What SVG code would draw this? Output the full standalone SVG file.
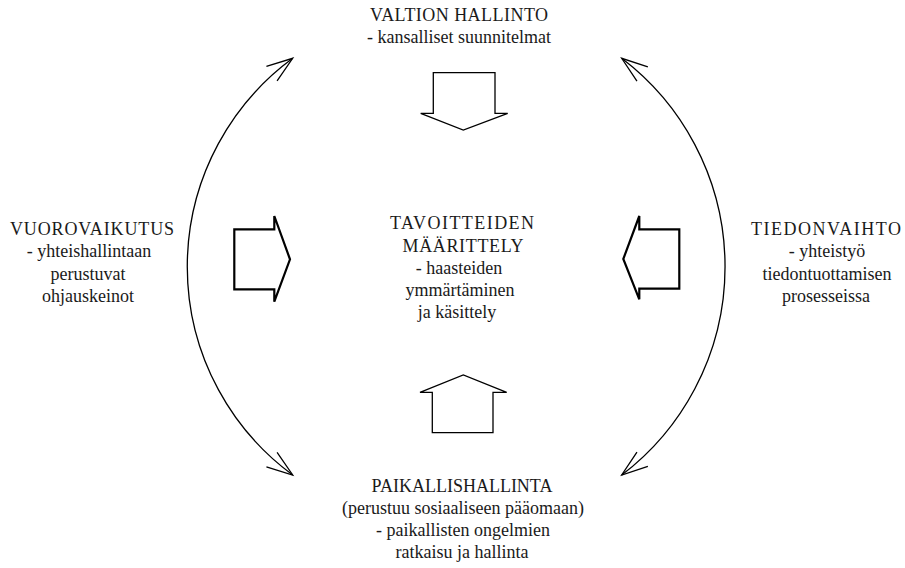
<svg xmlns="http://www.w3.org/2000/svg" width="905" height="568" viewBox="0 0 905 568">
  <style>
    .t { font-family: 'Liberation Serif', 'Times New Roman', serif; font-size: 18px; fill: #1a1a1a; text-anchor: middle; }
    .blk { fill: #ffffff; stroke: #000000; stroke-linejoin: miter; }
    .thin { stroke-width: 1.3; }
    .thick { stroke-width: 2.2; }
    .arc { fill: none; stroke: #000000; stroke-width: 1.3; }
  </style>
  <defs>
    <marker id="vhead" viewBox="-30 -15 32 30" refX="0" refY="0" markerWidth="32" markerHeight="30" markerUnits="userSpaceOnUse" orient="auto-start-reverse" overflow="visible">
      <path d="M-26,-9 L0,0 L-26,9" fill="none" stroke="#000000" stroke-width="1.3"/>
    </marker>
  </defs>
  <rect width="905" height="568" fill="#ffffff"/>

  <g id="connectors">
    <path class="arc" d="M292.7,58.3 A258.6,258.6 0 0 0 292.7,475" marker-start="url(#vhead)" marker-end="url(#vhead)"/>
    <path class="arc" d="M621.7,58.3 A261.7,261.7 0 0 1 621.7,475" marker-start="url(#vhead)" marker-end="url(#vhead)"/>
  </g>

  <g id="arrow-top">
    <polygon class="blk thin" points="433.3,72.7 495,72.7 495,113.3 507.7,113.3 463.3,130 420.7,113.3 433.3,113.3"/>
  </g>
  <g id="arrow-bottom">
    <polygon class="blk thin" points="432.3,432.7 493,432.7 493,392.3 506.7,392.3 463.3,375 420,392.3 432.3,392.3"/>
  </g>
  <g id="arrow-left">
    <polygon class="blk thick" points="234.3,229.3 274.3,229.3 274.3,216 290,259.3 274.3,301.7 274.3,289.3 234.3,289.3"/>
  </g>
  <g id="arrow-right">
    <polygon class="blk thick" points="679.3,229.3 639.3,229.3 639.3,216 623.3,259 639.3,299.3 639.3,288.7 679.3,288.7"/>
  </g>

  <g id="node-valtion">
    <text class="t" x="459" y="21" textLength="178" lengthAdjust="spacing">VALTION HALLINTO</text>
    <text class="t" x="459" y="43">- kansalliset suunnitelmat</text>
  </g>
  <g id="node-center">
    <text class="t" x="462" y="229" textLength="144" lengthAdjust="spacing">TAVOITTEIDEN</text>
    <text class="t" x="463" y="252" textLength="121" lengthAdjust="spacing">MÄÄRITTELY</text>
    <text class="t" x="459" y="274">- haasteiden</text>
    <text class="t" x="460" y="296">ymmärtäminen</text>
    <text class="t" x="457" y="318">ja käsittely</text>
  </g>
  <g id="node-vuoro">
    <text class="t" x="92" y="235" textLength="164" lengthAdjust="spacing">VUOROVAIKUTUS</text>
    <text class="t" x="89" y="257">- yhteishallintaan</text>
    <text class="t" x="88" y="280">perustuvat</text>
    <text class="t" x="88" y="302">ohjauskeinot</text>
  </g>
  <g id="node-tiedon">
    <text class="t" x="826" y="235" textLength="150" lengthAdjust="spacing">TIEDONVAIHTO</text>
    <text class="t" x="827" y="257">- yhteistyö</text>
    <text class="t" x="827" y="280">tiedontuottamisen</text>
    <text class="t" x="826" y="302">prosesseissa</text>
  </g>
  <g id="node-paikallis">
    <text class="t" x="462" y="492">PAIKALLISHALLINTA</text>
    <text class="t" x="463" y="514">(perustuu sosiaaliseen pääomaan)</text>
    <text class="t" x="463" y="536">- paikallisten ongelmien</text>
    <text class="t" x="462" y="558">ratkaisu ja hallinta</text>
  </g>
</svg>
